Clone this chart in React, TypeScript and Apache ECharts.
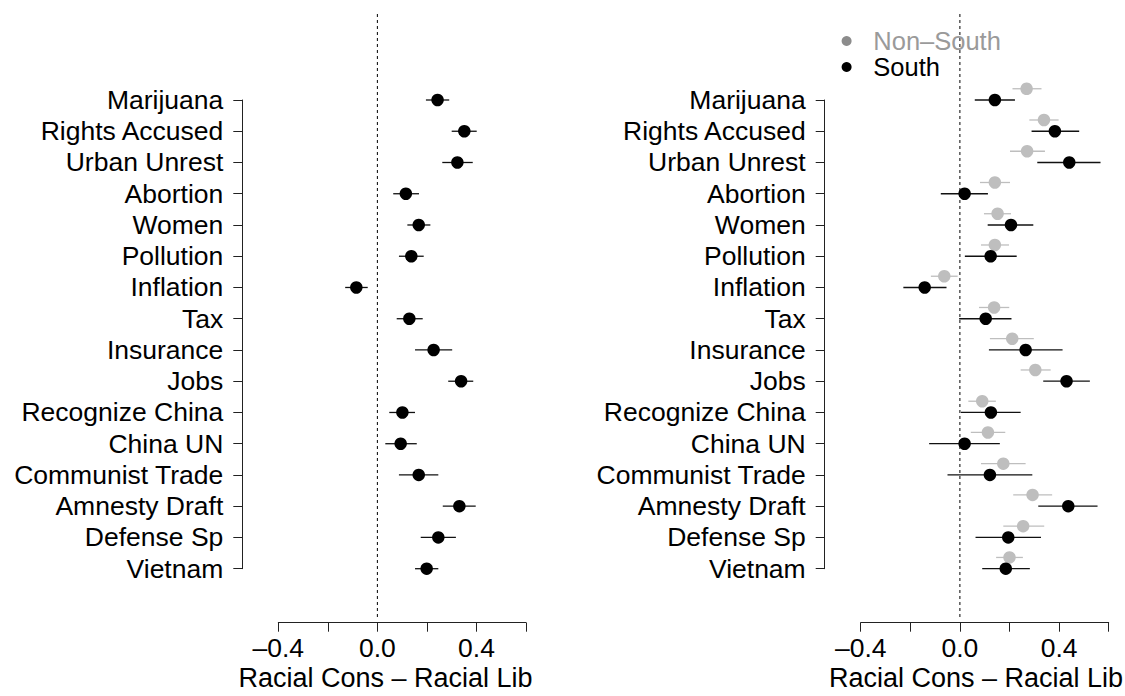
import React, { useEffect, useRef } from "react";
import * as echarts from "echarts";

const categories = [
  "Marijuana", "Rights Accused", "Urban Unrest", "Abortion", "Women", "Pollution",
  "Inflation", "Tax", "Insurance", "Jobs", "Recognize China", "China UN",
  "Communist Trade", "Amnesty Draft", "Defense Sp", "Vietnam",
];

// Left panel: all respondents
const allEst = [0.243, 0.351, 0.323, 0.115, 0.167, 0.137, -0.085, 0.129, 0.227, 0.338, 0.101, 0.094, 0.167, 0.331, 0.246, 0.199];
const allLo = [0.196, 0.300, 0.262, 0.064, 0.121, 0.087, -0.130, 0.078, 0.152, 0.286, 0.048, 0.032, 0.087, 0.264, 0.175, 0.152];
const allHi = [0.290, 0.401, 0.385, 0.168, 0.214, 0.187, -0.039, 0.183, 0.302, 0.387, 0.152, 0.159, 0.246, 0.397, 0.317, 0.246];

// Right panel: Non-South
const nonSouthEst = [0.269, 0.339, 0.271, 0.141, 0.152, 0.141, -0.063, 0.138, 0.211, 0.304, 0.090, 0.113, 0.175, 0.293, 0.255, 0.200];
const nonSouthLo = [0.212, 0.280, 0.202, 0.081, 0.097, 0.085, -0.117, 0.077, 0.121, 0.245, 0.034, 0.044, 0.085, 0.215, 0.175, 0.146];
const nonSouthHi = [0.329, 0.398, 0.343, 0.202, 0.206, 0.198, -0.009, 0.199, 0.298, 0.366, 0.145, 0.183, 0.265, 0.372, 0.340, 0.254];

// Right panel: South
const southEst = [0.141, 0.383, 0.441, 0.019, 0.206, 0.124, -0.142, 0.104, 0.265, 0.430, 0.125, 0.019, 0.121, 0.437, 0.195, 0.185];
const southLo = [0.060, 0.289, 0.312, -0.077, 0.112, 0.020, -0.228, -0.003, 0.117, 0.336, 0.004, -0.124, -0.050, 0.316, 0.063, 0.090];
const southHi = [0.222, 0.481, 0.567, 0.113, 0.296, 0.229, -0.054, 0.208, 0.414, 0.524, 0.245, 0.161, 0.292, 0.555, 0.327, 0.282];

const xTickValues = [-0.4, 0, 0.4];
const xTickLabels = ["\u20130.4", "0.0", "0.4"];
const xTitle = "Racial Cons \u2013 Racial Lib";
const legendNames = ["Non\u2013South", "South"];
const nonSouthOffset = -0.36; // vertical offset of Non-South rows (in category units)

const FONT = "'Liberation Sans', Arial, Helvetica, sans-serif";
const FS = 26.5;
const GREY = "#bebebe";

function xLabel(v: number) {
  for (let i = 0; i < xTickValues.length; i++) {
    if (Math.abs(v - xTickValues[i]) < 1e-6) return xTickLabels[i];
  }
  return "";
}

function makeAxes(gridIndex: number) {
  const xMain = {
    type: "value", gridIndex, min: -0.4, max: 0.6, interval: 0.2, position: "bottom", offset: 54,
    axisLine: { show: true, onZero: false, lineStyle: { color: "#222", width: 1 } },
    axisTick: { show: true, length: 9, lineStyle: { color: "#222", width: 1 } },
    axisLabel: { formatter: xLabel, fontSize: FS, color: "#000", fontFamily: FONT, margin: 12 },
    splitLine: { show: false },
  };
  const yMain = {
    type: "value", gridIndex, min: 0, max: 15, interval: 1, inverse: true, position: "left", offset: 36,
    axisLine: { show: true, onZero: false, lineStyle: { color: "#222", width: 1 } },
    axisTick: { show: true, length: 9, lineStyle: { color: "#222", width: 1 } },
    axisLabel: {
      formatter: (v: number) => categories[Math.round(v)] ?? "",
      fontSize: FS, color: "#000", fontFamily: FONT, margin: 19,
    },
    splitLine: { show: false },
  };
  const xRef = { type: "value", gridIndex: gridIndex + 1, min: -0.4, max: 0.6, show: false };
  const yRef = { type: "value", gridIndex: gridIndex + 1, min: 0, max: 1, show: false };
  return { xMain, yMain, xRef, yRef };
}

function ciSeries(name: string, lo: number[], hi: number[], offset: number, color: string, axisIndex: number) {
  return {
    type: "custom",
    name,
    xAxisIndex: axisIndex,
    yAxisIndex: axisIndex,
    clip: false,
    z: 2,
    encode: { x: [0, 1], y: 2 },
    data: lo.map((l, i) => [l, hi[i], i + offset]),
    renderItem: (params: any, api: any) => {
      const a = api.coord([api.value(0), api.value(2)]);
      const b = api.coord([api.value(1), api.value(2)]);
      return {
        type: "line",
        shape: { x1: a[0], y1: a[1], x2: b[0], y2: b[1] },
        style: { stroke: color, lineWidth: 1.3 },
      };
    },
  };
}

function pointSeries(name: string, est: number[], offset: number, color: string, axisIndex: number) {
  return {
    type: "scatter",
    name,
    xAxisIndex: axisIndex,
    yAxisIndex: axisIndex,
    clip: false,
    z: 3,
    symbol: "circle",
    symbolSize: 12.5,
    itemStyle: { color, opacity: 1 },
    emphasis: { disabled: true },
    data: est.map((e, i) => [e, i + offset]),
  };
}

function refLine(axisIndex: number) {
  return {
    type: "line",
    xAxisIndex: axisIndex,
    yAxisIndex: axisIndex,
    symbol: "none",
    z: 1,
    lineStyle: { color: "#000", width: 1, type: [3, 3] },
    data: [[0, 0], [0, 1]],
  };
}

export default function App() {
  const ref = useRef<HTMLDivElement>(null);
  useEffect(() => {
    if (!ref.current) return;
    const chart = echarts.init(ref.current, null, { renderer: "svg" });
    const L = makeAxes(0);
    const R = makeAxes(2);
    const option: any = {
      animation: false,
      backgroundColor: "#fff",
      textStyle: { fontFamily: FONT },
      grid: [
        { left: 278.3, width: 247.7, top: 100, height: 468.7 },
        { left: 278.3, width: 247.7, top: 13, height: 604 },
        { left: 860.7, width: 248, top: 100, height: 468.7 },
        { left: 860.7, width: 248, top: 13, height: 604 },
      ],
      xAxis: [L.xMain, L.xRef, R.xMain, R.xRef],
      yAxis: [L.yMain, L.yRef, R.yMain, R.yRef],
      legend: {
        orient: "vertical",
        left: 836.6,
        top: 23,
        itemWidth: 43.4,
        itemHeight: 10,
        itemGap: 0,
        icon: "circle",
        selectedMode: false,
        textStyle: { fontSize: 25.5, fontFamily: FONT, lineHeight: 24.3 },
        data: [
          { name: legendNames[0], itemStyle: { color: "#8c8c8c" }, textStyle: { color: "#9a9a9a" } },
          { name: legendNames[1], itemStyle: { color: "#000" }, textStyle: { color: "#000" } },
        ],
      },
      graphic: [
        {
          type: "text", left: 388.5 - 150, top: 664,
          style: { text: xTitle, fontSize: 27, fontFamily: FONT, fill: "#000", width: 300, align: "center" },
        },
        {
          type: "text", left: 979 - 150, top: 664,
          style: { text: xTitle, fontSize: 27, fontFamily: FONT, fill: "#000", width: 300, align: "center" },
        },
      ],
      series: [
        refLine(1),
        ciSeries("allCI", allLo, allHi, 0, "#111", 0),
        pointSeries("All", allEst, 0, "#000", 0),
        refLine(3),
        ciSeries("nsCI", nonSouthLo, nonSouthHi, nonSouthOffset, GREY, 2),
        pointSeries(legendNames[0], nonSouthEst, nonSouthOffset, GREY, 2),
        ciSeries("sCI", southLo, southHi, 0, "#111", 2),
        pointSeries(legendNames[1], southEst, 0, "#000", 2),
      ],
    };
    chart.setOption(option);
    return () => chart.dispose();
  }, []);
  return (
    <div
      ref={ref}
      style={{ position: "fixed", left: 0, top: 0, width: 1125, height: 696, background: "#fff" }}
    />
  );
}
